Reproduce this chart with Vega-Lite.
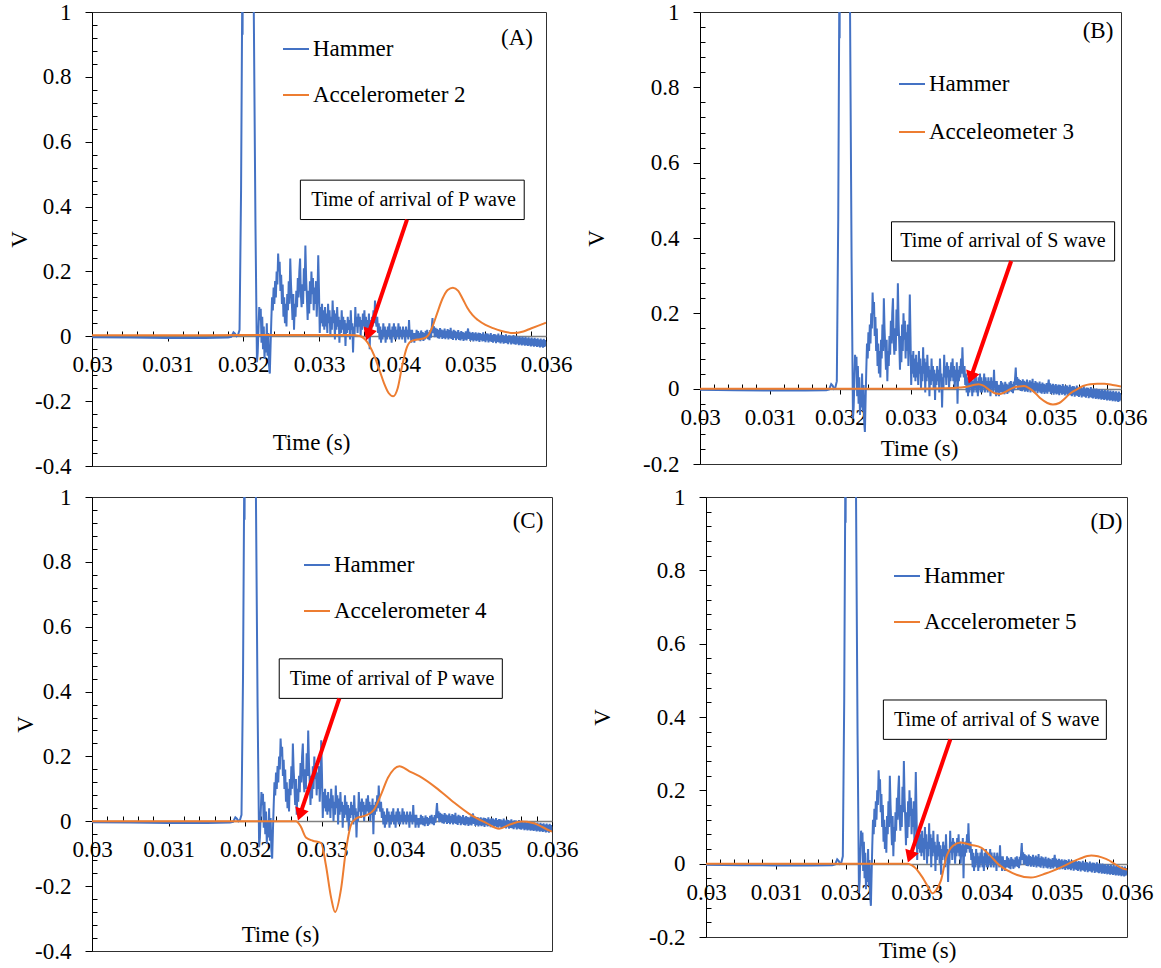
{
"$schema": "https://vega.github.io/schema/vega-lite/v6.json",
"padding": {"left": 8, "top": 0, "right": 0, "bottom": 0},
"background": "white",
"config": {
  "view": {"stroke": "#303030", "strokeWidth": 1},
  "axis": {"labelFontSize": 23, "labelColor": "#000", "titleFontSize": 23, "titleFontWeight": "normal", "titleColor": "#000", "grid": false, "labelFlush": false, "labelOverlap": false, "labelBound": false, "tickColor": "#000", "domainColor": "#000", "tickWidth": 1},
  "legend": {"orient": "none", "title": null, "symbolType": "stroke", "symbolStrokeWidth": 2, "symbolSize": 676, "labelFontSize": 23, "labelColor": "#000", "labelOffset": 3, "labelLimit": 400, "padding": 0}
},
"datasets": {
"hammer": [
{"t":0.03,"v":-0.003},{"t":0.0305,"v":-0.004},{"t":0.031,"v":-0.005},{"t":0.0315,"v":-0.005},{"t":0.0318,"v":-0.004},{"t":0.03184,"v":-0.002},{"t":0.03187,"v":0.012},{"t":0.03189,"v":0.008},{"t":0.03191,"v":0.0},{"t":0.03193,"v":0.004},{"t":0.03195,"v":0.02},{"t":0.03197,"v":0.45},{"t":0.031985,"v":1.03},{"t":0.03199,"v":0.93},{"t":0.032,"v":1.6},{"t":0.0321,"v":1.6},{"t":0.03213,"v":1.25},{"t":0.03216,"v":0.35},{"t":0.03218,"v":-0.08},
{"t":0.03219,"v":-0.05},{"t":0.0322,"v":0.02},{"t":0.03221,"v":0.09},{"t":0.03222,"v":0.05},{"t":0.03223,"v":0.085},{"t":0.03224,"v":-0.02},{"t":0.03225,"v":0.06},{"t":0.03226,"v":-0.04},{"t":0.03227,"v":0.03},{"t":0.03228,"v":-0.07},{"t":0.03229,"v":0.0},{"t":0.0323,"v":-0.05},{"t":0.03231,"v":0.04},{"t":0.03232,"v":-0.06},{"t":0.03233,"v":0.01},{"t":0.03234,"v":-0.09},{"t":0.03235,"v":-0.115},{"t":0.03236,"v":-0.03},{"t":0.03237,"v":0.05},{"t":0.03238,"v":0.12},{"t":0.03239,"v":0.08},
{"t":0.0324,"v":0.15},{"t":0.03241,"v":0.1},{"t":0.03242,"v":0.17},{"t":0.03243,"v":0.12},{"t":0.03244,"v":0.2},{"t":0.03245,"v":0.16},{"t":0.03246,"v":0.255},{"t":0.03247,"v":0.2},{"t":0.03248,"v":0.23},{"t":0.03249,"v":0.14},{"t":0.0325,"v":0.19},{"t":0.03251,"v":0.1},{"t":0.03252,"v":0.16},{"t":0.03253,"v":0.06},{"t":0.03254,"v":0.12},{"t":0.03255,"v":0.04},{"t":0.03256,"v":0.1},{"t":0.03257,"v":0.03},{"t":0.03258,"v":0.13},{"t":0.03259,"v":0.08},
{"t":0.0326,"v":0.17},{"t":0.03261,"v":0.1},{"t":0.03262,"v":0.24},{"t":0.03263,"v":0.16},{"t":0.03264,"v":0.11},{"t":0.03265,"v":0.05},{"t":0.03266,"v":0.13},{"t":0.03267,"v":0.02},{"t":0.03268,"v":0.1},{"t":0.03269,"v":0.06},{"t":0.0327,"v":0.14},{"t":0.03271,"v":0.09},{"t":0.03272,"v":0.18},{"t":0.03273,"v":0.12},{"t":0.03274,"v":0.2},{"t":0.03275,"v":0.24},{"t":0.03276,"v":0.13},{"t":0.03277,"v":0.09},{"t":0.03278,"v":0.16},{"t":0.03279,"v":0.1},
{"t":0.0328,"v":0.21},{"t":0.03281,"v":0.14},{"t":0.03282,"v":0.28},{"t":0.03283,"v":0.18},{"t":0.03284,"v":0.12},{"t":0.03285,"v":0.05},{"t":0.03286,"v":0.14},{"t":0.03287,"v":0.07},{"t":0.03288,"v":0.17},{"t":0.03289,"v":0.1},{"t":0.0329,"v":0.2},{"t":0.03291,"v":0.13},{"t":0.03292,"v":0.18},{"t":0.03293,"v":0.08},{"t":0.03294,"v":0.15},{"t":0.03295,"v":0.1},{"t":0.03296,"v":0.17},{"t":0.03297,"v":0.06},{"t":0.03298,"v":0.13},{"t":0.03299,"v":0.25},
{"t":0.033,"v":0.14},{"t":0.03301,"v":0.01},{"t":0.03302,"v":0.09},{"t":0.03303,"v":0.04},{"t":0.03304,"v":0.1},{"t":0.03305,"v":0.03},{"t":0.03306,"v":0.08},{"t":0.03307,"v":0.02},{"t":0.03308,"v":0.09},{"t":0.03309,"v":0.03},{"t":0.0331,"v":0.07},{"t":0.03311,"v":0.01},{"t":0.03312,"v":0.1},{"t":0.03313,"v":0.04},{"t":0.03314,"v":0.08},{"t":0.03315,"v":0.0},{"t":0.03316,"v":0.06},{"t":0.03317,"v":0.02},{"t":0.03318,"v":0.11},{"t":0.03319,"v":0.04},
{"t":0.0332,"v":0.08},{"t":0.03321,"v":-0.01},{"t":0.03322,"v":0.07},{"t":0.03323,"v":0.02},{"t":0.03324,"v":0.09},{"t":0.03325,"v":0.03},{"t":0.03326,"v":0.06},{"t":0.03327,"v":-0.02},{"t":0.03328,"v":0.05},{"t":0.03329,"v":0.01},{"t":0.0333,"v":0.08},{"t":0.03331,"v":0.02},{"t":0.03332,"v":0.06},{"t":0.03333,"v":0.0},{"t":0.03334,"v":0.05},{"t":0.03335,"v":-0.03},{"t":0.03336,"v":0.04},{"t":0.03337,"v":0.01},{"t":0.03338,"v":0.06},{"t":0.03339,"v":0.02},
{"t":0.0334,"v":0.05},{"t":0.03341,"v":-0.01},{"t":0.03342,"v":0.08},{"t":0.03343,"v":0.02},{"t":0.03344,"v":0.04},{"t":0.03345,"v":-0.05},{"t":0.03346,"v":0.03},{"t":0.03347,"v":0.0},{"t":0.03348,"v":0.09},{"t":0.03349,"v":0.03},{"t":0.0335,"v":0.06},{"t":0.03351,"v":0.01},{"t":0.03352,"v":0.07},{"t":0.03353,"v":0.03},{"t":0.03354,"v":0.06},{"t":0.03355,"v":0.0},{"t":0.03356,"v":0.05},{"t":0.03357,"v":0.02},{"t":0.03358,"v":0.07},{"t":0.03359,"v":0.03},
{"t":0.0336,"v":0.08},{"t":0.03361,"v":0.02},{"t":0.03362,"v":0.06},{"t":0.03363,"v":0.0},{"t":0.03364,"v":0.05},{"t":0.03365,"v":0.02},{"t":0.03366,"v":0.07},{"t":0.03367,"v":-0.04},{"t":0.03368,"v":0.05},{"t":0.03369,"v":0.02},{"t":0.0337,"v":0.06},{"t":0.03371,"v":0.03},{"t":0.03372,"v":0.08},{"t":0.03373,"v":0.04},{"t":0.03374,"v":0.11},{"t":0.03375,"v":0.05},{"t":0.03376,"v":0.03},{"t":0.03377,"v":0.06},{"t":0.03378,"v":0.01},{"t":0.03379,"v":0.04},
{"t":0.0338,"v":-0.01},{"t":0.03381,"v":0.03},{"t":0.03382,"v":-0.02},{"t":0.03383,"v":0.02},{"t":0.03384,"v":-0.01},{"t":0.03385,"v":0.04},{"t":0.03386,"v":0.0},{"t":0.03387,"v":0.03},{"t":0.03388,"v":-0.02},{"t":0.03389,"v":0.02},{"t":0.0339,"v":-0.01},{"t":0.03391,"v":0.03},{"t":0.03392,"v":0.0},{"t":0.03393,"v":0.04},{"t":0.03394,"v":-0.01},{"t":0.03395,"v":0.02},{"t":0.03396,"v":-0.02},{"t":0.03397,"v":0.03},{"t":0.03398,"v":0.0},{"t":0.03399,"v":0.04},
{"t":0.034,"v":-0.01},{"t":0.03401,"v":0.03},{"t":0.03402,"v":-0.01},{"t":0.03403,"v":0.02},{"t":0.03404,"v":0.0},{"t":0.03405,"v":0.04},{"t":0.03406,"v":-0.01},{"t":0.03407,"v":0.03},{"t":0.03408,"v":0.0},{"t":0.03409,"v":0.02},{"t":0.0341,"v":-0.01},{"t":0.03411,"v":0.03},{"t":0.03412,"v":0.0},{"t":0.03413,"v":0.02},{"t":0.03414,"v":-0.02},{"t":0.03415,"v":0.03},{"t":0.03416,"v":0.0},{"t":0.03417,"v":0.02},{"t":0.03418,"v":-0.01},{"t":0.03419,"v":0.05},
{"t":0.0342,"v":0.0},{"t":0.03421,"v":0.02},{"t":0.03422,"v":-0.02},{"t":0.03423,"v":0.02},{"t":0.03424,"v":-0.01},{"t":0.03425,"v":0.01},{"t":0.03426,"v":-0.02},{"t":0.03427,"v":0.01},{"t":0.03428,"v":-0.01},{"t":0.03429,"v":0.02},
{"t":0.0343,"v":-0.01},{"t":0.03431,"v":0.016},{"t":0.03432,"v":-0.012},{"t":0.03433,"v":0.011},{"t":0.03434,"v":-0.015},{"t":0.03435,"v":0.018},{"t":0.03436,"v":-0.007},{"t":0.03437,"v":0.013},{"t":0.03438,"v":-0.014},{"t":0.03439,"v":0.01},
{"t":0.0344,"v":-0.01},{"t":0.03441,"v":0.017},{"t":0.03442,"v":-0.006},{"t":0.03443,"v":0.02},{"t":0.03444,"v":-0.009},{"t":0.03445,"v":0.012},{"t":0.03446,"v":-0.012},{"t":0.03447,"v":0.019},{"t":0.03448,"v":-0.004},{"t":0.03449,"v":0.027},
{"t":0.0345,"v":0.056},{"t":0.03451,"v":0.01},{"t":0.03452,"v":0.031},{"t":0.03453,"v":-0.003},{"t":0.03454,"v":0.026},{"t":0.03455,"v":-0.001},{"t":0.03456,"v":0.023},{"t":0.03457,"v":-0.006},{"t":0.03458,"v":0.02},{"t":0.03459,"v":-0.007},
{"t":0.0346,"v":0.025},{"t":0.03461,"v":-0.002},{"t":0.03462,"v":0.021},{"t":0.03463,"v":-0.008},{"t":0.03464,"v":0.018},{"t":0.03465,"v":-0.005},{"t":0.03466,"v":0.024},{"t":0.03467,"v":-0.009},{"t":0.03468,"v":0.017},{"t":0.03469,"v":-0.004},
{"t":0.0347,"v":0.022},{"t":0.03471,"v":-0.01},{"t":0.03472,"v":0.019},{"t":0.03473,"v":-0.006},{"t":0.03474,"v":0.026},{"t":0.03475,"v":-0.008},{"t":0.03476,"v":0.015},{"t":0.03477,"v":-0.011},{"t":0.03478,"v":0.02},{"t":0.03479,"v":-0.005},
{"t":0.0348,"v":0.017},{"t":0.03481,"v":-0.012},{"t":0.03482,"v":0.014},{"t":0.03483,"v":-0.007},{"t":0.03484,"v":0.019},{"t":0.03485,"v":-0.011},{"t":0.03486,"v":0.012},{"t":0.03487,"v":-0.013},{"t":0.03488,"v":0.016},{"t":0.03489,"v":-0.009},
{"t":0.0349,"v":0.013},{"t":0.03491,"v":-0.014},{"t":0.03492,"v":0.011},{"t":0.03493,"v":-0.01},{"t":0.03494,"v":0.015},{"t":0.03495,"v":-0.013},{"t":0.03496,"v":0.01},{"t":0.03497,"v":0.024},{"t":0.03498,"v":-0.008},{"t":0.03499,"v":0.014},
{"t":0.035,"v":-0.014},{"t":0.03501,"v":0.01},{"t":0.03502,"v":-0.011},{"t":0.03503,"v":0.013},{"t":0.03504,"v":-0.016},{"t":0.03505,"v":0.009},{"t":0.03506,"v":-0.012},{"t":0.03507,"v":0.012},{"t":0.03508,"v":-0.015},{"t":0.03509,"v":0.008},
{"t":0.0351,"v":-0.013},{"t":0.03511,"v":0.011},{"t":0.03512,"v":-0.017},{"t":0.03513,"v":0.01},{"t":0.03514,"v":-0.012},{"t":0.03515,"v":0.007},{"t":0.03516,"v":-0.016},{"t":0.03517,"v":0.012},{"t":0.03518,"v":-0.014},{"t":0.03519,"v":0.006},
{"t":0.0352,"v":-0.018},{"t":0.03521,"v":0.009},{"t":0.03522,"v":-0.013},{"t":0.03523,"v":0.008},{"t":0.03524,"v":-0.019},{"t":0.03525,"v":0.005},{"t":0.03526,"v":-0.015},{"t":0.03527,"v":0.01},{"t":0.03528,"v":-0.017},{"t":0.03529,"v":0.004},
{"t":0.0353,"v":-0.02},{"t":0.03531,"v":0.007},{"t":0.03532,"v":-0.016},{"t":0.03533,"v":0.006},{"t":0.03534,"v":-0.021},{"t":0.03535,"v":0.003},{"t":0.03536,"v":-0.017},{"t":0.03537,"v":0.008},{"t":0.03538,"v":-0.019},{"t":0.03539,"v":0.002},
{"t":0.0354,"v":-0.022},{"t":0.03541,"v":0.005},{"t":0.03542,"v":-0.018},{"t":0.03543,"v":0.004},{"t":0.03544,"v":-0.023},{"t":0.03545,"v":0.001},{"t":0.03546,"v":-0.02},{"t":0.03547,"v":0.006},{"t":0.03548,"v":-0.021},{"t":0.03549,"v":0.0},
{"t":0.0355,"v":-0.024},{"t":0.03551,"v":0.003},{"t":0.03552,"v":-0.019},{"t":0.03553,"v":0.002},{"t":0.03554,"v":-0.025},{"t":0.03555,"v":-0.001},{"t":0.03556,"v":-0.022},{"t":0.03557,"v":0.004},{"t":0.03558,"v":-0.024},{"t":0.03559,"v":-0.002},
{"t":0.0356,"v":-0.026},{"t":0.03561,"v":0.001},{"t":0.03562,"v":-0.023},{"t":0.03563,"v":-0.003},{"t":0.03564,"v":-0.027},{"t":0.03565,"v":0.0},{"t":0.03566,"v":-0.025},{"t":0.03567,"v":-0.004},{"t":0.03568,"v":-0.028},{"t":0.03569,"v":-0.001},
{"t":0.0357,"v":-0.026},{"t":0.03571,"v":-0.005},{"t":0.03572,"v":-0.029},{"t":0.03573,"v":-0.002},{"t":0.03574,"v":-0.027},{"t":0.03575,"v":-0.006},{"t":0.03576,"v":-0.03},{"t":0.03577,"v":-0.003},{"t":0.03578,"v":-0.028},{"t":0.03579,"v":-0.007},
{"t":0.0358,"v":-0.031},{"t":0.03581,"v":-0.004},{"t":0.03582,"v":-0.029},{"t":0.03583,"v":-0.008},{"t":0.03584,"v":-0.032},{"t":0.03585,"v":-0.005},{"t":0.03586,"v":-0.03},{"t":0.03587,"v":-0.009},{"t":0.03588,"v":-0.033},{"t":0.03589,"v":-0.006},
{"t":0.0359,"v":-0.031},{"t":0.03591,"v":-0.01},{"t":0.03592,"v":-0.034},{"t":0.03593,"v":-0.007},{"t":0.03594,"v":-0.032},{"t":0.03595,"v":-0.011},{"t":0.03596,"v":-0.035},{"t":0.03597,"v":-0.008},{"t":0.03598,"v":-0.033},{"t":0.03599,"v":-0.012},{"t":0.036,"v":-0.03}
],
"acc2": [
{"t":0.03,"v":0.003},{"t":0.031,"v":0.003},{"t":0.032,"v":0.004},{"t":0.033,"v":0.004},{"t":0.0334,"v":0.004},{"t":0.03348,"v":0.003},{"t":0.03355,"v":0.0},{"t":0.03361,"v":-0.01},{"t":0.03367,"v":-0.03},{"t":0.03373,"v":-0.06},{"t":0.0338,"v":-0.105},{"t":0.03386,"v":-0.145},{"t":0.03392,"v":-0.175},{"t":0.03398,"v":-0.185},{"t":0.03404,"v":-0.16},{"t":0.0341,"v":-0.09},{"t":0.03416,"v":-0.035},{"t":0.03422,"v":-0.015},{"t":0.0343,"v":-0.01},{"t":0.03438,"v":-0.007},{"t":0.03444,"v":0.002},{"t":0.0345,"v":0.03},{"t":0.03456,"v":0.07},{"t":0.03463,"v":0.115},{"t":0.0347,"v":0.143},{"t":0.03477,"v":0.15},{"t":0.03484,"v":0.14},{"t":0.0349,"v":0.115},{"t":0.03496,"v":0.088},{"t":0.03503,"v":0.065},{"t":0.0351,"v":0.05},{"t":0.0352,"v":0.035},{"t":0.0353,"v":0.025},{"t":0.0354,"v":0.017},{"t":0.03557,"v":0.01},{"t":0.0357,"v":0.015},{"t":0.0358,"v":0.024},{"t":0.0359,"v":0.033},{"t":0.036,"v":0.042}
],
"acc3": [
{"t":0.03,"v":0.0},{"t":0.033,"v":0.0},{"t":0.0335,"v":0.001},{"t":0.0337,"v":0.003},{"t":0.03382,"v":0.006},{"t":0.0339,"v":0.01},{"t":0.03397,"v":0.012},{"t":0.03404,"v":0.008},{"t":0.03412,"v":-0.003},{"t":0.0342,"v":-0.012},{"t":0.03428,"v":-0.014},{"t":0.03436,"v":-0.008},{"t":0.03446,"v":0.002},{"t":0.03455,"v":0.006},{"t":0.03462,"v":0.007},{"t":0.0347,"v":0.0},{"t":0.03478,"v":-0.012},{"t":0.03486,"v":-0.027},{"t":0.03495,"v":-0.038},{"t":0.03503,"v":-0.042},{"t":0.03512,"v":-0.038},{"t":0.0352,"v":-0.026},{"t":0.03528,"v":-0.012},{"t":0.03537,"v":-0.002},{"t":0.03546,"v":0.007},{"t":0.03556,"v":0.012},{"t":0.03566,"v":0.013},{"t":0.03576,"v":0.013},{"t":0.03588,"v":0.01},{"t":0.036,"v":0.006}
],
"acc4": [
{"t":0.03,"v":0.0},{"t":0.0325,"v":0.0},{"t":0.03266,"v":0.0},{"t":0.03272,"v":-0.015},{"t":0.03279,"v":-0.05},{"t":0.03288,"v":-0.06},{"t":0.03299,"v":-0.067},{"t":0.03305,"v":-0.134},{"t":0.03312,"v":-0.237},{"t":0.03317,"v":-0.28},{"t":0.03325,"v":-0.206},{"t":0.03331,"v":-0.093},{"t":0.03338,"v":-0.01},{"t":0.03344,"v":0.008},{"t":0.03357,"v":0.018},{"t":0.03368,"v":0.036},{"t":0.03377,"v":0.082},{"t":0.03386,"v":0.134},{"t":0.03401,"v":0.17},{"t":0.03414,"v":0.154},{"t":0.03427,"v":0.139},{"t":0.03449,"v":0.103},{"t":0.0347,"v":0.062},{"t":0.03492,"v":0.023},{"t":0.03514,"v":-0.005},{"t":0.03531,"v":-0.023},{"t":0.03545,"v":-0.01},{"t":0.0356,"v":-0.001},{"t":0.03575,"v":-0.005},{"t":0.03597,"v":-0.029},{"t":0.036,"v":-0.032}
],
"acc5": [
{"t":0.03,"v":0.0},{"t":0.0328,"v":0.0},{"t":0.03287,"v":0.0},{"t":0.03293,"v":-0.004},{"t":0.03299,"v":-0.013},{"t":0.03305,"v":-0.028},{"t":0.03311,"v":-0.045},{"t":0.03317,"v":-0.065},{"t":0.03323,"v":-0.081},{"t":0.03328,"v":-0.072},{"t":0.03335,"v":-0.045},{"t":0.03342,"v":0.015},{"t":0.03352,"v":0.049},{"t":0.03363,"v":0.058},{"t":0.03378,"v":0.051},{"t":0.03392,"v":0.044},{"t":0.03404,"v":0.024},{"t":0.03418,"v":-0.004},{"t":0.03437,"v":-0.026},{"t":0.03463,"v":-0.038},{"t":0.03485,"v":-0.026},{"t":0.03508,"v":-0.008},{"t":0.03532,"v":0.013},{"t":0.03549,"v":0.022},{"t":0.0357,"v":0.013},{"t":0.03594,"v":-0.013},{"t":0.036,"v":-0.016}
]
},
"spacing": 6,
"resolve": {"scale": {"x": "independent", "y": "independent", "color": "independent"}},
"vconcat": [
{"hconcat": [
 {"width": 454, "height": 454, "view": {"stroke": "#303030"},
  "resolve": {"axis": {"x": "independent", "y": "independent"}},
  "layer": [
   {"data": {"name": "hammer"}, "mark": {"type": "line", "clip": true, "strokeWidth": 2},
    "encoding": {
     "x": {"field": "t", "type": "quantitative", "scale": {"domain": [0.03, 0.036], "nice": false, "zero": false},
       "axis": {"orient": "bottom", "labelFont": "Times New Roman, Liberation Serif, DejaVu Serif, serif", "titleFont": "Times New Roman, Liberation Serif, DejaVu Serif, serif", "values": [0.03,0.0302,0.0304,0.0306,0.0308,0.031,0.0312,0.0314,0.0316,0.0318,0.032,0.0322,0.0324,0.0326,0.0328,0.033,0.0332,0.0334,0.0336,0.0338,0.034,0.0342,0.0344,0.0346,0.0348,0.035,0.0352,0.0354,0.0356,0.0358,0.036],
        "labelExpr": "abs(datum.value*1000-round(datum.value*1000))<0.001 ? ''+datum.value : ''",
        "tickSize": {"condition": {"test": "abs(datum.value*1000-round(datum.value*1000))<0.001", "value": 5}, "value": -5},
        "offset": -130, "domainColor": "#808080", "domainWidth": 1.5, "labelPadding": 12,
        "title": "Time (s)", "titleX": 219, "titleY": 106, "titleBaseline": "middle", "titleAlign": "center", "titleAngle": 0}},
     "y": {"field": "v", "type": "quantitative", "scale": {"domain": [-0.4, 1], "nice": false},
       "axis": {"orient": "left", "labelFont": "Times New Roman, Liberation Serif, DejaVu Serif, serif", "titleFont": "Times New Roman, Liberation Serif, DejaVu Serif, serif", "values": [-0.4,-0.36,-0.32,-0.28,-0.24,-0.2,-0.16,-0.12,-0.08,-0.04,0,0.04,0.08,0.12,0.16,0.2,0.24,0.28,0.32,0.36,0.4,0.44,0.48,0.52,0.56,0.6,0.64,0.68,0.72,0.76,0.8,0.84,0.88,0.92,0.96,1],
        "labelExpr": "abs(datum.value*5-round(datum.value*5))<0.001 ? ''+datum.value : ''",
        "tickSize": {"condition": {"test": "abs(datum.value*5-round(datum.value*5))<0.001", "value": 7}, "value": -5},
        "labelPadding": 14, "title": "V", "titleX": -72.5, "titleY": 227, "titleBaseline": "middle", "titleAlign": "center", "titleAngle": -90}},
     "color": {"datum": "Hammer", "type": "nominal", "scale": {"domain": ["Hammer", "Accelerometer 2"], "range": ["#4472C4", "#ED7D31"]},
       "legend": {"orient": "none", "legendX": 190, "legendY": 23, "rowPadding": 20, "labelFont": "Times New Roman, Liberation Serif, DejaVu Serif, serif", "labelFontSize": 23}}
    }},
   {"data": {"name": "acc2"}, "mark": {"type": "line", "clip": true, "strokeWidth": 2, "interpolate": "monotone"},
    "encoding": {"x": {"field": "t", "type": "quantitative", "axis": null}, "y": {"field": "v", "type": "quantitative", "axis": null}, "color": {"datum": "Accelerometer 2", "type": "nominal"}}},
   {"data": {"values": [{}]}, "mark": {"type": "rect", "fill": "#ffffff", "stroke": "#000000", "strokeWidth": 1},
    "encoding": {"x": {"datum": 0.032754, "type": "quantitative", "axis": null}, "x2": {"datum": 0.035712}, "y": {"datum": 0.4815, "type": "quantitative", "axis": null}, "y2": {"datum": 0.36}}},
   {"data": {"values": [{}]}, "mark": {"type": "text", "fontSize": 20, "font": "Liberation Serif", "align": "center", "baseline": "middle", "color": "#000"},
    "encoding": {"x": {"datum": 0.03425, "type": "quantitative", "axis": null}, "y": {"datum": 0.421, "type": "quantitative", "axis": null}, "text": {"value": "Time of arrival of P wave"}}},
   {"data": {"values": [{}]}, "mark": {"type": "rule", "color": "#FF0000", "strokeWidth": 4},
    "encoding": {"x": {"datum": 0.034163, "type": "quantitative", "axis": null}, "y": {"datum": 0.36, "type": "quantitative", "axis": null}, "x2": {"datum": 0.03365}, "y2": {"datum": 0.005}}},
   {"data": {"values": [{}]}, "mark": {"type": "point", "shape": "triangle-down", "filled": true, "color": "#FF0000", "opacity": 1, "size": 200, "angle": 18.6},
    "encoding": {"x": {"datum": 0.03365, "type": "quantitative", "axis": null}, "y": {"datum": 0.005, "type": "quantitative", "axis": null}}},
   {"data": {"values": [{}]}, "mark": {"type": "text", "fontSize": 23, "font": "Liberation Serif", "align": "center", "baseline": "middle", "color": "#000"},
    "encoding": {"x": {"datum": 0.035617, "type": "quantitative", "axis": null}, "y": {"datum": 0.92, "type": "quantitative", "axis": null}, "text": {"value": "(A)"}}}
  ]},
 {"width": 421, "height": 452, "view": {"stroke": "#303030"},
  "resolve": {"axis": {"x": "independent", "y": "independent"}},
  "layer": [
   {"data": {"name": "hammer"}, "mark": {"type": "line", "clip": true, "strokeWidth": 2},
    "encoding": {
     "x": {"field": "t", "type": "quantitative", "scale": {"domain": [0.03, 0.036], "nice": false, "zero": false},
       "axis": {"orient": "bottom", "labelFont": "Times New Roman, Liberation Serif, DejaVu Serif, serif", "titleFont": "Times New Roman, Liberation Serif, DejaVu Serif, serif", "values": [0.03,0.0302,0.0304,0.0306,0.0308,0.031,0.0312,0.0314,0.0316,0.0318,0.032,0.0322,0.0324,0.0326,0.0328,0.033,0.0332,0.0334,0.0336,0.0338,0.034,0.0342,0.0344,0.0346,0.0348,0.035,0.0352,0.0354,0.0356,0.0358,0.036],
        "labelExpr": "abs(datum.value*1000-round(datum.value*1000))<0.001 ? ''+datum.value : ''",
        "tickSize": {"condition": {"test": "abs(datum.value*1000-round(datum.value*1000))<0.001", "value": 5}, "value": -5},
        "offset": -75, "domainColor": "#808080", "domainWidth": 1.5, "labelPadding": 12,
        "title": "Time (s)", "titleX": 219, "titleY": 59, "titleBaseline": "middle", "titleAlign": "center", "titleAngle": 0}},
     "y": {"field": "v", "type": "quantitative", "scale": {"domain": [-0.2, 1], "nice": false},
       "axis": {"orient": "left", "labelFont": "Times New Roman, Liberation Serif, DejaVu Serif, serif", "titleFont": "Times New Roman, Liberation Serif, DejaVu Serif, serif", "values": [-0.2,-0.16,-0.12,-0.08,-0.04,0,0.04,0.08,0.12,0.16,0.2,0.24,0.28,0.32,0.36,0.4,0.44,0.48,0.52,0.56,0.6,0.64,0.68,0.72,0.76,0.8,0.84,0.88,0.92,0.96,1],
        "labelExpr": "abs(datum.value*5-round(datum.value*5))<0.001 ? ''+datum.value : ''",
        "tickSize": {"condition": {"test": "abs(datum.value*5-round(datum.value*5))<0.001", "value": 7}, "value": -5},
        "labelPadding": 14, "title": "V", "titleX": -103.5, "titleY": 226, "titleBaseline": "middle", "titleAlign": "center", "titleAngle": -90}},
     "color": {"datum": "Hammer", "type": "nominal", "scale": {"domain": ["Hammer", "Acceleometer 3"], "range": ["#4472C4", "#ED7D31"]},
       "legend": {"orient": "none", "legendX": 198, "legendY": 58, "rowPadding": 22, "labelFont": "Times New Roman, Liberation Serif, DejaVu Serif, serif", "labelFontSize": 23}}
    }},
   {"data": {"name": "acc3"}, "mark": {"type": "line", "clip": true, "strokeWidth": 2, "interpolate": "monotone"},
    "encoding": {"x": {"field": "t", "type": "quantitative", "axis": null}, "y": {"field": "v", "type": "quantitative", "axis": null}, "color": {"datum": "Acceleometer 3", "type": "nominal"}}},
   {"data": {"values": [{}]}, "mark": {"type": "rect", "fill": "#ffffff", "stroke": "#000000", "strokeWidth": 1},
    "encoding": {"x": {"datum": 0.032729, "type": "quantitative", "axis": null}, "x2": {"datum": 0.035909}, "y": {"datum": 0.443, "type": "quantitative", "axis": null}, "y2": {"datum": 0.339}}},
   {"data": {"values": [{}]}, "mark": {"type": "text", "fontSize": 20, "font": "Liberation Serif", "align": "center", "baseline": "middle", "color": "#000"},
    "encoding": {"x": {"datum": 0.034318, "type": "quantitative", "axis": null}, "y": {"datum": 0.391, "type": "quantitative", "axis": null}, "text": {"value": "Time of arrival of S wave"}}},
   {"data": {"values": [{}]}, "mark": {"type": "rule", "color": "#FF0000", "strokeWidth": 4},
    "encoding": {"x": {"datum": 0.034435, "type": "quantitative", "axis": null}, "y": {"datum": 0.339, "type": "quantitative", "axis": null}, "x2": {"datum": 0.033859}, "y2": {"datum": 0.029}}},
   {"data": {"values": [{}]}, "mark": {"type": "point", "shape": "triangle-down", "filled": true, "color": "#FF0000", "opacity": 1, "size": 200, "angle": 19.6},
    "encoding": {"x": {"datum": 0.033859, "type": "quantitative", "axis": null}, "y": {"datum": 0.029, "type": "quantitative", "axis": null}}},
   {"data": {"values": [{}]}, "mark": {"type": "text", "fontSize": 23, "font": "Liberation Serif", "align": "center", "baseline": "middle", "color": "#000"},
    "encoding": {"x": {"datum": 0.035672, "type": "quantitative", "axis": null}, "y": {"datum": 0.95, "type": "quantitative", "axis": null}, "text": {"value": "(B)"}}}
  ]}
 ], "spacing": 154, "bounds": "flush", "resolve": {"scale": {"x": "independent", "y": "independent", "color": "independent"}}},
{"hconcat": [
 {"width": 460, "height": 454, "view": {"stroke": "#303030"},
  "resolve": {"axis": {"x": "independent", "y": "independent"}},
  "layer": [
   {"data": {"name": "hammer"}, "mark": {"type": "line", "clip": true, "strokeWidth": 2},
    "encoding": {
     "x": {"field": "t", "type": "quantitative", "scale": {"domain": [0.03, 0.036], "nice": false, "zero": false},
       "axis": {"orient": "bottom", "labelFont": "Times New Roman, Liberation Serif, DejaVu Serif, serif", "titleFont": "Times New Roman, Liberation Serif, DejaVu Serif, serif", "values": [0.03,0.0302,0.0304,0.0306,0.0308,0.031,0.0312,0.0314,0.0316,0.0318,0.032,0.0322,0.0324,0.0326,0.0328,0.033,0.0332,0.0334,0.0336,0.0338,0.034,0.0342,0.0344,0.0346,0.0348,0.035,0.0352,0.0354,0.0356,0.0358,0.036],
        "labelExpr": "abs(datum.value*1000-round(datum.value*1000))<0.001 ? ''+datum.value : ''",
        "tickSize": {"condition": {"test": "abs(datum.value*1000-round(datum.value*1000))<0.001", "value": 5}, "value": -5},
        "offset": -130, "domainColor": "#808080", "domainWidth": 1.5, "labelPadding": 12,
        "title": "Time (s)", "titleX": 188, "titleY": 113, "titleBaseline": "middle", "titleAlign": "center", "titleAngle": 0}},
     "y": {"field": "v", "type": "quantitative", "scale": {"domain": [-0.4, 1], "nice": false},
       "axis": {"orient": "left", "labelFont": "Times New Roman, Liberation Serif, DejaVu Serif, serif", "titleFont": "Times New Roman, Liberation Serif, DejaVu Serif, serif", "values": [-0.4,-0.36,-0.32,-0.28,-0.24,-0.2,-0.16,-0.12,-0.08,-0.04,0,0.04,0.08,0.12,0.16,0.2,0.24,0.28,0.32,0.36,0.4,0.44,0.48,0.52,0.56,0.6,0.64,0.68,0.72,0.76,0.8,0.84,0.88,0.92,0.96,1],
        "labelExpr": "abs(datum.value*5-round(datum.value*5))<0.001 ? ''+datum.value : ''",
        "tickSize": {"condition": {"test": "abs(datum.value*5-round(datum.value*5))<0.001", "value": 7}, "value": -5},
        "labelPadding": 14, "title": "V", "titleX": -66.5, "titleY": 227, "titleBaseline": "middle", "titleAlign": "center", "titleAngle": -90}},
     "color": {"datum": "Hammer", "type": "nominal", "scale": {"domain": ["Hammer", "Accelerometer 4"], "range": ["#4472C4", "#ED7D31"]},
       "legend": {"orient": "none", "legendX": 211, "legendY": 54, "rowPadding": 20, "labelFont": "Times New Roman, Liberation Serif, DejaVu Serif, serif", "labelFontSize": 23}}
    }},
   {"data": {"name": "acc4"}, "mark": {"type": "line", "clip": true, "strokeWidth": 2, "interpolate": "monotone"},
    "encoding": {"x": {"field": "t", "type": "quantitative", "axis": null}, "y": {"field": "v", "type": "quantitative", "axis": null}, "color": {"datum": "Accelerometer 4", "type": "nominal"}}},
   {"data": {"values": [{}]}, "mark": {"type": "rect", "fill": "#ffffff", "stroke": "#000000", "strokeWidth": 1},
    "encoding": {"x": {"datum": 0.032442, "type": "quantitative", "axis": null}, "x2": {"datum": 0.035352}, "y": {"datum": 0.501, "type": "quantitative", "axis": null}, "y2": {"datum": 0.379}}},
   {"data": {"values": [{}]}, "mark": {"type": "text", "fontSize": 20, "font": "Liberation Serif", "align": "center", "baseline": "middle", "color": "#000"},
    "encoding": {"x": {"datum": 0.033913, "type": "quantitative", "axis": null}, "y": {"datum": 0.44, "type": "quantitative", "axis": null}, "text": {"value": "Time of arrival of P wave"}}},
   {"data": {"values": [{}]}, "mark": {"type": "rule", "color": "#FF0000", "strokeWidth": 4},
    "encoding": {"x": {"datum": 0.033226, "type": "quantitative", "axis": null}, "y": {"datum": 0.379, "type": "quantitative", "axis": null}, "x2": {"datum": 0.032713}, "y2": {"datum": 0.0204}}},
   {"data": {"values": [{}]}, "mark": {"type": "point", "shape": "triangle-down", "filled": true, "color": "#FF0000", "opacity": 1, "size": 200, "angle": 19.1},
    "encoding": {"x": {"datum": 0.032713, "type": "quantitative", "axis": null}, "y": {"datum": 0.0204, "type": "quantitative", "axis": null}}},
   {"data": {"values": [{}]}, "mark": {"type": "text", "fontSize": 23, "font": "Liberation Serif", "align": "center", "baseline": "middle", "color": "#000"},
    "encoding": {"x": {"datum": 0.035687, "type": "quantitative", "axis": null}, "y": {"datum": 0.926, "type": "quantitative", "axis": null}, "text": {"value": "(C)"}}}
  ]},
 {"width": 421, "height": 440, "view": {"stroke": "#303030"},
  "resolve": {"axis": {"x": "independent", "y": "independent"}},
  "layer": [
   {"data": {"name": "hammer"}, "mark": {"type": "line", "clip": true, "strokeWidth": 2},
    "encoding": {
     "x": {"field": "t", "type": "quantitative", "scale": {"domain": [0.03, 0.036], "nice": false, "zero": false},
       "axis": {"orient": "bottom", "labelFont": "Times New Roman, Liberation Serif, DejaVu Serif, serif", "titleFont": "Times New Roman, Liberation Serif, DejaVu Serif, serif", "values": [0.03,0.0302,0.0304,0.0306,0.0308,0.031,0.0312,0.0314,0.0316,0.0318,0.032,0.0322,0.0324,0.0326,0.0328,0.033,0.0332,0.0334,0.0336,0.0338,0.034,0.0342,0.0344,0.0346,0.0348,0.035,0.0352,0.0354,0.0356,0.0358,0.036],
        "labelExpr": "abs(datum.value*1000-round(datum.value*1000))<0.001 ? ''+datum.value : ''",
        "tickSize": {"condition": {"test": "abs(datum.value*1000-round(datum.value*1000))<0.001", "value": 5}, "value": -5},
        "offset": -73, "domainColor": "#808080", "domainWidth": 1.5, "labelPadding": 12,
        "title": "Time (s)", "titleX": 211, "titleY": 86, "titleBaseline": "middle", "titleAlign": "center", "titleAngle": 0}},
     "y": {"field": "v", "type": "quantitative", "scale": {"domain": [-0.2, 1], "nice": false},
       "axis": {"orient": "left", "labelFont": "Times New Roman, Liberation Serif, DejaVu Serif, serif", "titleFont": "Times New Roman, Liberation Serif, DejaVu Serif, serif", "values": [-0.2,-0.16,-0.12,-0.08,-0.04,0,0.04,0.08,0.12,0.16,0.2,0.24,0.28,0.32,0.36,0.4,0.44,0.48,0.52,0.56,0.6,0.64,0.68,0.72,0.76,0.8,0.84,0.88,0.92,0.96,1],
        "labelExpr": "abs(datum.value*5-round(datum.value*5))<0.001 ? ''+datum.value : ''",
        "tickSize": {"condition": {"test": "abs(datum.value*5-round(datum.value*5))<0.001", "value": 7}, "value": -5},
        "labelPadding": 14, "title": "V", "titleX": -103.5, "titleY": 220, "titleBaseline": "middle", "titleAlign": "center", "titleAngle": -90}},
     "color": {"datum": "Hammer", "type": "nominal", "scale": {"domain": ["Hammer", "Accelerometer 5"], "range": ["#4472C4", "#ED7D31"]},
       "legend": {"orient": "none", "legendX": 187, "legendY": 65, "rowPadding": 20, "labelFont": "Times New Roman, Liberation Serif, DejaVu Serif, serif", "labelFontSize": 23}}
    }},
   {"data": {"name": "acc5"}, "mark": {"type": "line", "clip": true, "strokeWidth": 2, "interpolate": "monotone"},
    "encoding": {"x": {"field": "t", "type": "quantitative", "axis": null}, "y": {"field": "v", "type": "quantitative", "axis": null}, "color": {"datum": "Accelerometer 5", "type": "nominal"}}},
   {"data": {"values": [{}]}, "mark": {"type": "rect", "fill": "#ffffff", "stroke": "#000000", "strokeWidth": 1},
    "encoding": {"x": {"datum": 0.032528, "type": "quantitative", "axis": null}, "x2": {"datum": 0.035706}, "y": {"datum": 0.4464, "type": "quantitative", "axis": null}, "y2": {"datum": 0.339}}},
   {"data": {"values": [{}]}, "mark": {"type": "text", "fontSize": 20, "font": "Liberation Serif", "align": "center", "baseline": "middle", "color": "#000"},
    "encoding": {"x": {"datum": 0.034144, "type": "quantitative", "axis": null}, "y": {"datum": 0.393, "type": "quantitative", "axis": null}, "text": {"value": "Time of arrival of S wave"}}},
   {"data": {"values": [{}]}, "mark": {"type": "rule", "color": "#FF0000", "strokeWidth": 4},
    "encoding": {"x": {"datum": 0.033482, "type": "quantitative", "axis": null}, "y": {"datum": 0.339, "type": "quantitative", "axis": null}, "x2": {"datum": 0.032907}, "y2": {"datum": 0.0188}}},
   {"data": {"values": [{}]}, "mark": {"type": "point", "shape": "triangle-down", "filled": true, "color": "#FF0000", "opacity": 1, "size": 200, "angle": 19.5},
    "encoding": {"x": {"datum": 0.032907, "type": "quantitative", "axis": null}, "y": {"datum": 0.0188, "type": "quantitative", "axis": null}}},
   {"data": {"values": [{}]}, "mark": {"type": "text", "fontSize": 23, "font": "Liberation Serif", "align": "center", "baseline": "middle", "color": "#000"},
    "encoding": {"x": {"datum": 0.035707, "type": "quantitative", "axis": null}, "y": {"datum": 0.933, "type": "quantitative", "axis": null}, "text": {"value": "(D)"}}}
  ]}
 ], "spacing": 154, "bounds": "flush", "resolve": {"scale": {"x": "independent", "y": "independent", "color": "independent"}}}
]
}
